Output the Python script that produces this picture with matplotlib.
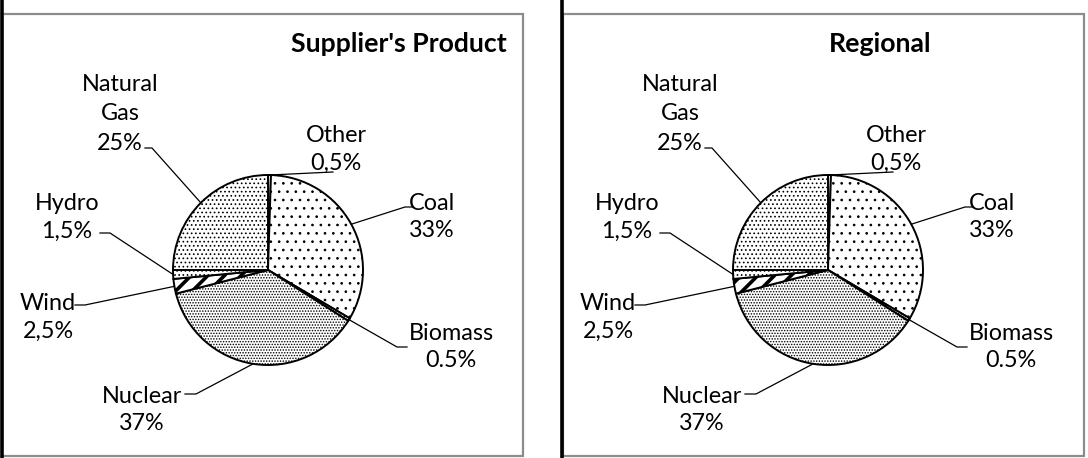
import matplotlib
matplotlib.use("Agg")
import matplotlib.pyplot as plt
from matplotlib.patches import Rectangle
import numpy as np

# ---- data ----
sources = ["Other", "Coal", "Biomass", "Nuclear", "Wind", "Hydro", "Natural\nGas"]
supplier_values = [0.5, 33, 0.5, 37, 2.5, 1.5, 25]
regional_values = [0.5, 33, 0.5, 37, 2.5, 1.5, 25]
value_labels = ["0,5%", "33%", "0.5%", "37%", "2,5%", "1,5%", "25%"]
panel_titles = ["Supplier's Product", "Regional"]

# ---- style ----
hatches = ["", "..", "......", "......", "//", "....", "...."]
W, H = 1088, 458
plt.rcParams['font.family'] = ['Lato', 'DejaVu Sans']
plt.rcParams['hatch.linewidth'] = 0.7
plt.rcParams['hatch.color'] = 'black'

fig = plt.figure(figsize=(W / 100, H / 100), dpi=100)
ax = fig.add_axes([0, 0, 1, 1])

def Y(py):
    return H - py

# label layout relative to pie centre (pixel offsets):
# (text centre dx, dy, elbow dx, dy, leader end dx, dy, linespacing)
label_layout = [
    (68, -123, 65, -98, 65, -98, 1.4),         # Other
    (164, -55, 137, -63, 145, -63, 1.4),       # Coal
    (183, 75, 129, 77, 139, 77, 1.4),          # Biomass
    (-126, 138, -72, 124, -83, 124, 1.4),      # Nuclear
    (-220, 45, -183, 35, -193, 35, 1.4),       # Wind
    (-201, -55, -158, -37, -168, -37, 1.4),    # Hydro
    (-148, -158, -116, -122, -123, -122, 1.5),  # Natural gas
]

panels = [
    dict(values=supplier_values, title=panel_titles[0], cx=268, cy=270,
         box=(2, 14, 523, 456), line_x=1.5, title_xy=(507, 44), title_ha='right'),
    dict(values=regional_values, title=panel_titles[1], cx=828, cy=270,
         box=(563, 14, 1084, 456), line_x=562, title_xy=(880, 44), title_ha='center'),
]
R = 95
fs = 16.8

for p in panels:
    x0, y0, x1, y1 = p['box']
    ax.add_patch(Rectangle((x0, Y(y1)), x1 - x0, y1 - y0, fill=False,
                           edgecolor='#8c8c8c', linewidth=1.6, zorder=1))
    ax.plot([p['line_x'], p['line_x']], [0, H], color='black', linewidth=2.6, zorder=2,
            solid_capstyle='butt')
    ax.text(p['title_xy'][0], Y(p['title_xy'][1]), p['title'], ha=p['title_ha'],
            va='center', fontsize=19.2, fontweight='bold', color='black')

    wedges, _ = ax.pie(p['values'], startangle=90, counterclock=False,
                       center=(p['cx'], Y(p['cy'])), radius=R, frame=True,
                       wedgeprops=dict(facecolor='white', edgecolor='black', linewidth=1.4))
    for w, h in zip(wedges, hatches):
        w.set_hatch(h)
        w.set_zorder(3)
    if hasattr(wedges[4], 'set_hatch_linewidth'):
        wedges[4].set_hatch_linewidth(2.6)

    total = float(sum(p['values']))
    cum = 0.0
    for i, v in enumerate(p['values']):
        mid = 90 - (cum + v / 2) / total * 360
        cum += v
        ex = p['cx'] + R * np.cos(np.radians(mid))
        ey = p['cy'] - R * np.sin(np.radians(mid))
        dxt, dyt, elx, ely, enx, eny, ls = label_layout[i]
        ax.plot([ex, p['cx'] + elx, p['cx'] + enx],
                [Y(ey), Y(p['cy'] + ely), Y(p['cy'] + eny)],
                color='black', linewidth=0.9, zorder=4)
        ax.text(p['cx'] + dxt, Y(p['cy'] + dyt + 2), sources[i] + "\n" + value_labels[i],
                ha='center', va='center', fontsize=fs, color='black',
                linespacing=ls, zorder=5)

ax.set_xlim(0, W)
ax.set_ylim(0, H)
ax.set_aspect('auto')
ax.set_axis_off()
fig.savefig("out.png", dpi=100)
